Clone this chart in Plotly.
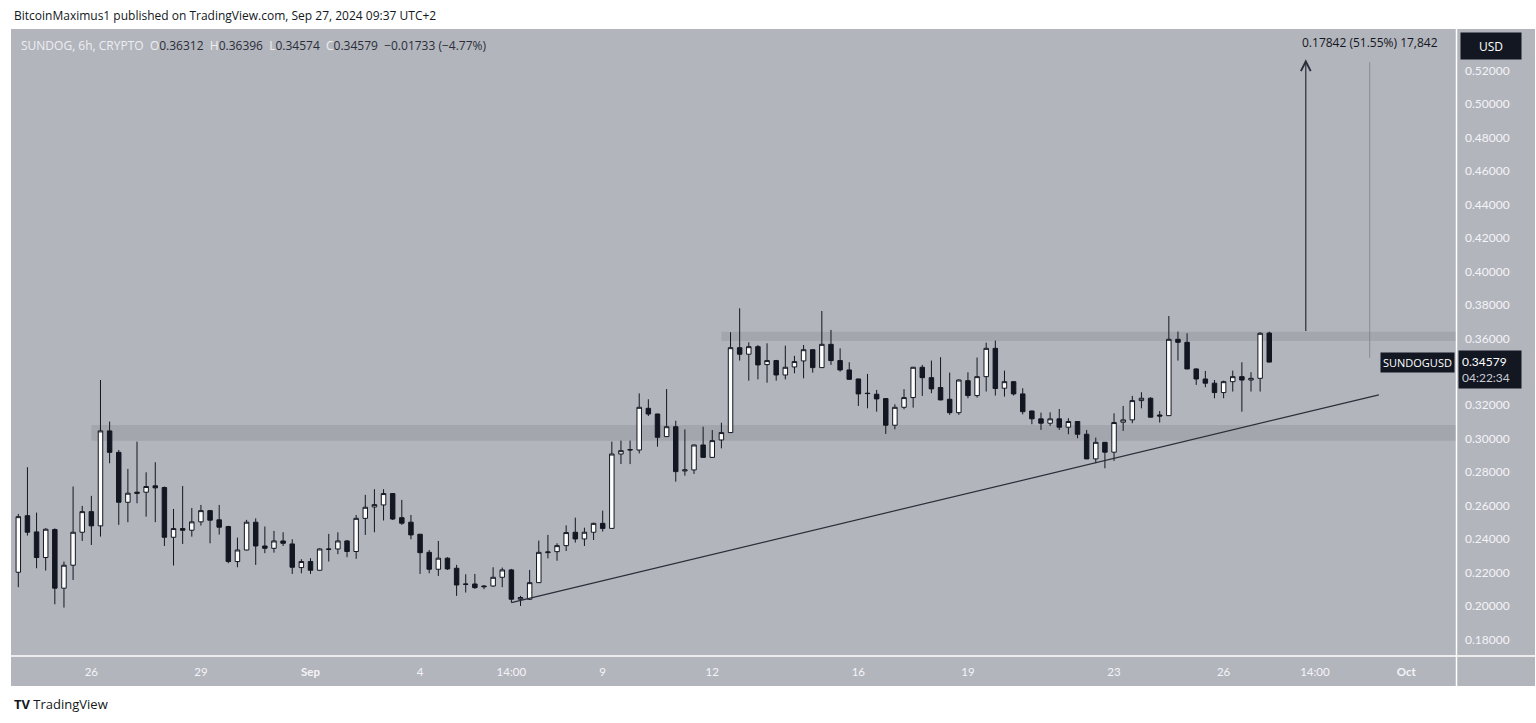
import plotly.graph_objects as go

# ---- data: 6h candles, bar index 0 = Aug 24 02:00 (UTC+2) ----
bar_index = list(range(138))
opens = [0.2203,0.2541,0.2444,0.2291,0.2458,0.2108,0.2245,0.2442,0.2565,0.2480,
         0.3047,0.2919,0.2621,0.2681,0.2681,0.2719,0.2709,0.2412,0.2464,0.2454,
         0.2504,0.2571,0.2516,0.2476,0.2267,0.2336,0.2502,0.2360,0.2346,0.2390,
         0.2372,0.2231,0.2267,0.2215,0.2342,0.2342,0.2390,0.2327,0.2525,0.2593,
         0.2605,0.2673,0.2529,0.2502,0.2430,0.2322,0.2221,0.2287,0.2227,0.2133,
         0.2133,0.2121,0.2121,0.2173,0.2217,0.2042,0.2042,0.2141,0.2320,0.2326,
         0.2362,0.2442,0.2402,0.2442,0.2495,0.2465,0.2909,0.2933,0.2933,0.3182,
         0.3148,0.3013,0.3072,0.2808,0.2814,0.2963,0.2889,0.2993,0.3037,0.3544,
         0.3505,0.3550,0.3443,0.3467,0.3381,0.3429,0.3465,0.3532,0.3425,0.3564,
         0.3467,0.3411,0.3357,0.3272,0.3266,0.3240,0.3081,0.3188,0.3246,0.3427,
         0.3365,0.3306,0.3236,0.3156,0.3347,0.3258,0.3371,0.3540,0.3302,0.3341,
         0.3268,0.3166,0.3119,0.3093,0.3119,0.3069,0.3103,0.3027,0.2880,0.2979,
         0.2920,0.3099,0.3113,0.3228,0.3242,0.3142,0.3138,0.3594,0.3576,0.3417,
         0.3357,0.3332,0.3276,0.3341,0.3371,0.3351,0.3361,0.36312]
highs = [0.2551,0.2830,0.2559,0.2466,0.2465,0.2267,0.2715,0.2599,0.2659,0.3351,
         0.3103,0.2933,0.2820,0.2983,0.2800,0.2860,0.2715,0.2581,0.2718,0.2587,
         0.2605,0.2575,0.2605,0.2480,0.2410,0.2516,0.2525,0.2476,0.2450,0.2442,
         0.2400,0.2281,0.2287,0.2346,0.2432,0.2442,0.2396,0.2545,0.2665,0.2699,
         0.2699,0.2675,0.2635,0.2545,0.2432,0.2336,0.2390,0.2293,0.2247,0.2191,
         0.2193,0.2127,0.2233,0.2231,0.2223,0.2062,0.2217,0.2392,0.2426,0.2376,
         0.2483,0.2529,0.2469,0.2499,0.2571,0.2983,0.2989,0.2989,0.3271,0.3236,
         0.3150,0.3297,0.3108,0.3056,0.2965,0.3072,0.3052,0.3096,0.3636,0.3779,
         0.3576,0.3560,0.3570,0.3471,0.3556,0.3495,0.3560,0.3534,0.3763,0.3650,
         0.3540,0.3457,0.3359,0.3387,0.3292,0.3242,0.3206,0.3296,0.3429,0.3441,
         0.3467,0.3487,0.3395,0.3355,0.3397,0.3485,0.3574,0.3586,0.3407,0.3345,
         0.3302,0.3168,0.3156,0.3158,0.3178,0.3123,0.3105,0.3053,0.3007,0.2981,
         0.3152,0.3196,0.3256,0.3278,0.3248,0.3166,0.3733,0.3640,0.3630,0.3421,
         0.3405,0.3351,0.3347,0.3407,0.3457,0.3397,0.3636,0.36396]
lows = [0.2114,0.2422,0.2227,0.2213,0.2012,0.1992,0.2157,0.2390,0.2366,0.2416,
        0.2854,0.2486,0.2502,0.2615,0.2535,0.2502,0.2360,0.2243,0.2372,0.2416,
        0.2482,0.2376,0.2428,0.2257,0.2233,0.2333,0.2247,0.2317,0.2320,0.2360,
        0.2193,0.2197,0.2193,0.2213,0.2267,0.2311,0.2293,0.2283,0.2426,0.2442,
        0.2512,0.2515,0.2486,0.2400,0.2193,0.2197,0.2181,0.2217,0.2062,0.2082,
        0.2104,0.2102,0.2117,0.2114,0.2022,0.2002,0.2038,0.2139,0.2286,0.2272,
        0.2330,0.2380,0.2360,0.2396,0.2446,0.2463,0.2849,0.2849,0.2913,0.3136,
        0.2953,0.3011,0.2744,0.2780,0.2790,0.2887,0.2887,0.2943,0.3035,0.3467,
        0.3347,0.3355,0.3335,0.3347,0.3355,0.3391,0.3361,0.3395,0.3423,0.3441,
        0.3401,0.3351,0.3196,0.3182,0.3162,0.3029,0.3057,0.3176,0.3186,0.3256,
        0.3272,0.3230,0.3143,0.3143,0.3242,0.3246,0.3282,0.3258,0.3252,0.3258,
        0.3146,0.3087,0.3053,0.3077,0.3053,0.3027,0.3003,0.2878,0.2854,0.2824,
        0.2868,0.3047,0.3093,0.3182,0.3127,0.3097,0.3136,0.3467,0.3415,0.3322,
        0.3308,0.3242,0.3242,0.3282,0.3162,0.3282,0.3282,0.34574]
closes = [0.2535,0.2442,0.2291,0.2460,0.2108,0.2245,0.2442,0.2565,0.2480,0.3047,
          0.2919,0.2621,0.2675,0.2675,0.2715,0.2707,0.2412,0.2464,0.2454,0.2504,
          0.2571,0.2514,0.2472,0.2267,0.2336,0.2502,0.2360,0.2346,0.2390,0.2376,
          0.2233,0.2267,0.2215,0.2342,0.2340,0.2390,0.2327,0.2525,0.2591,0.2607,
          0.2673,0.2521,0.2496,0.2426,0.2320,0.2221,0.2287,0.2223,0.2127,0.2131,
          0.2111,0.2117,0.2173,0.2217,0.2042,0.2052,0.2141,0.2322,0.2324,0.2362,
          0.2440,0.2402,0.2442,0.2495,0.2465,0.2909,0.2929,0.2935,0.3188,0.3148,
          0.3009,0.3072,0.2804,0.2814,0.2963,0.2889,0.2989,0.3037,0.3544,0.3505,
          0.3550,0.3441,0.3467,0.3381,0.3427,0.3461,0.3532,0.3425,0.3564,0.3467,
          0.3411,0.3355,0.3268,0.3270,0.3238,0.3081,0.3188,0.3246,0.3427,0.3365,
          0.3298,0.3232,0.3156,0.3351,0.3258,0.3371,0.3540,0.3300,0.3341,0.3268,
          0.3162,0.3119,0.3093,0.3119,0.3069,0.3103,0.3027,0.2880,0.2979,0.2920,
          0.3097,0.3113,0.3228,0.3242,0.3129,0.3136,0.3594,0.3576,0.3417,0.3357,
          0.3332,0.3276,0.3341,0.3371,0.3351,0.3361,0.3630,0.34579]

tick_bars = [8, 20, 32, 44, 54, 64, 76, 92, 104, 120, 132, 142, 152]
tick_labels = ["26", "29", "<b>Sep</b>", "4", "14:00", "9", "12", "16", "19",
               "23", "26", "14:00", "<b>Oct</b>"]
# 0.34000 is hidden behind the last-price label in the reference
price_ticks = [0.18, 0.20, 0.22, 0.24, 0.26, 0.28, 0.30, 0.32, 0.36,
               0.38, 0.40, 0.42, 0.44, 0.46, 0.48, 0.50, 0.52]

# zones, trendline and projection
upper_zone = [77, 0.3584, 0.3639]   # start bar, low, high
lower_zone = [8, 0.2989, 0.3083]
trend_bars = [54, 149]
trend_prices = [0.2022, 0.3262]
arrow_bar = 141
arrow_prices = [0.3634, 0.5266]
measure_bar = 148
measure_prices = [0.3483, 0.5249]

W, H = 1536, 723
X_RANGE = [-0.8, 157.45]
Y_RANGE = [0.1706, 0.5445]
PANEL = "rgb(179,181,189)"
ZONE = "rgb(164,166,173)"
DARK = "#131722"

def px(x):
    return x / W

def py(y):
    return (H - y) / H

fig = go.Figure()
fig.add_trace(go.Candlestick(
    x=bar_index, open=opens, high=highs, low=lows, close=closes,
    increasing=dict(fillcolor="#ffffff", line=dict(color=DARK, width=1)),
    decreasing=dict(fillcolor=DARK, line=dict(color=DARK, width=1)),
    whiskerwidth=0, hoverinfo="skip", showlegend=False,
))

shapes = [
    dict(type="rect", xref="paper", yref="paper", x0=px(11), x1=px(1535),
         y0=py(686), y1=py(29), fillcolor=PANEL, line=dict(width=0), layer="below"),
    dict(type="rect", xref="x", yref="y", x0=upper_zone[0], x1=X_RANGE[1],
         y0=upper_zone[1], y1=upper_zone[2], fillcolor=ZONE, line=dict(width=0), layer="below"),
    dict(type="rect", xref="x", yref="y", x0=lower_zone[0], x1=X_RANGE[1],
         y0=lower_zone[1], y1=lower_zone[2], fillcolor=ZONE, line=dict(width=0), layer="below"),
    dict(type="line", xref="x", yref="y", x0=trend_bars[0], x1=trend_bars[1],
         y0=trend_prices[0], y1=trend_prices[1], line=dict(color="#2a2e39", width=1.2)),
    dict(type="line", xref="x", yref="y", x0=measure_bar, x1=measure_bar,
         y0=measure_prices[0], y1=measure_prices[1], line=dict(color="rgba(120,123,134,0.7)", width=1)),
    dict(type="line", xref="paper", yref="paper", x0=px(11), x1=px(1535),
         y0=py(656), y1=py(656), line=dict(color="white", width=1.5)),
    dict(type="line", xref="paper", yref="paper", x0=px(1456.5), x1=px(1456.5),
         y0=py(29), y1=py(686), line=dict(color="white", width=1.5)),
]

annotations = [
    dict(x=arrow_bar, y=arrow_prices[1], ax=arrow_bar, ay=arrow_prices[0],
         xref="x", yref="y", axref="x", ayref="y", text="", showarrow=True,
         arrowhead=5, arrowsize=1.6, arrowwidth=1.2, arrowcolor="#2a2e39"),
    dict(x=measure_bar, y=0.5365, xref="x", yref="y", showarrow=False,
         text="0.17842 (51.55%) 17,842", font=dict(size=12, color=DARK, family="Open Sans"),
         xanchor="center", yanchor="middle"),
    dict(x=px(1455), y=py(362), xref="paper", yref="paper", showarrow=False,
         text="SUNDOGUSD", font=dict(size=11, color="white", family="Open Sans"),
         bgcolor=DARK, xanchor="right", yanchor="middle", borderpad=2),
    dict(x=px(1457.5), y=py(370), xref="paper", yref="paper", showarrow=False,
         text="0.34579<br><span style='color:#c9cbd2'>04:22:34</span>",
         font=dict(size=12, color="white", family="Lato"), align="left",
         bgcolor=DARK, xanchor="left", yanchor="middle", width=56, borderpad=3),
    dict(x=px(1490.5), y=py(46.5), xref="paper", yref="paper", showarrow=False,
         text="USD", font=dict(size=12, color="white", family="Open Sans"),
         bgcolor=DARK, xanchor="center", yanchor="middle", width=54, height=20, borderpad=3),
    dict(x=px(12), y=py(15), xref="paper", yref="paper", showarrow=False,
         text="BitcoinMaximus1 published on TradingView.com, Sep 27, 2024 09:37 UTC+2",
         font=dict(size=12, color=DARK, family="Open Sans"), xanchor="left", yanchor="middle"),
    dict(x=px(19), y=py(45), xref="paper", yref="paper", showarrow=False,
         text=("<span style='color:#eceef2'>SUNDOG, 6h, CRYPTO</span>  "
               "<span style='color:#eceef2'>O</span>0.36312  "
               "<span style='color:#eceef2'>H</span>0.36396  "
               "<span style='color:#eceef2'>L</span>0.34574  "
               "<span style='color:#eceef2'>C</span>0.34579  "
               "−0.01733 (−4.77%)"),
         font=dict(size=12, color="#2a2e39", family="Open Sans"), xanchor="left", yanchor="middle"),
    dict(x=px(12), y=py(704), xref="paper", yref="paper", showarrow=False,
         text="<b>TV</b> TradingView", font=dict(size=13, color=DARK, family="Open Sans"),
         xanchor="left", yanchor="middle"),
]

fig.update_layout(
    width=W, height=H, autosize=False,
    margin=dict(l=0, r=0, t=0, b=0),
    paper_bgcolor="white", plot_bgcolor=PANEL,
    hovermode=False, showlegend=False,
    shapes=shapes, annotations=annotations,
    xaxis=dict(domain=[px(11), px(1456)], range=X_RANGE, rangeslider=dict(visible=False),
               tickmode="array", tickvals=tick_bars, ticktext=tick_labels,
               showgrid=False, zeroline=False, showline=False, ticks="",
               tickfont=dict(size=11.5, color="#f3f4f7", family="Lato"), ticklabelstandoff=8),
    yaxis=dict(domain=[py(655.5), py(29.3)], range=Y_RANGE, side="right",
               tickmode="array", tickvals=price_ticks,
               ticktext=[f"{v:.5f}" for v in price_ticks],
               showgrid=False, zeroline=False, showline=False, ticks="",
               tickfont=dict(size=12, color="#f3f4f7", family="Lato"), ticklabelstandoff=8),
)

fig.write_html("out.html", config={"displayModeBar": False})
